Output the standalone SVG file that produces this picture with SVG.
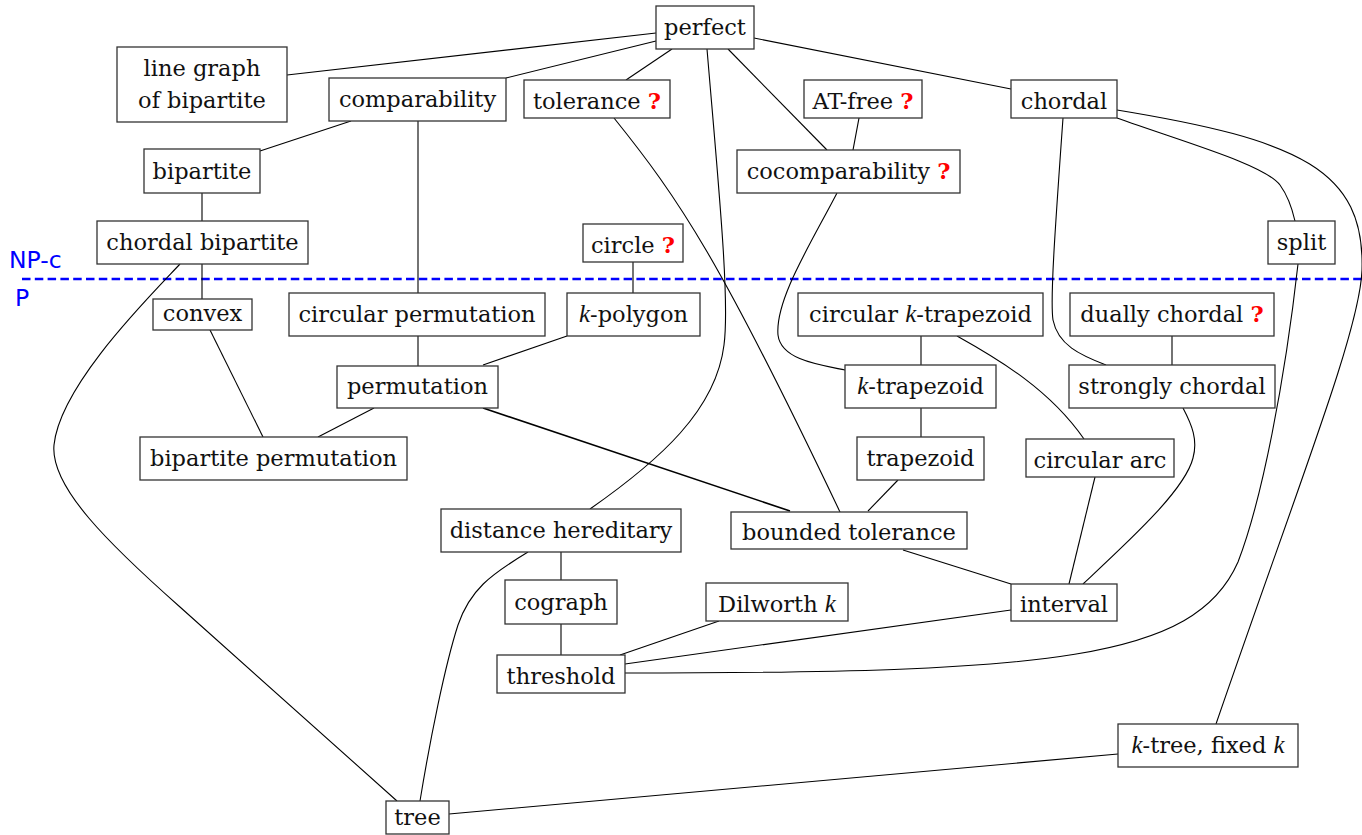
<svg xmlns="http://www.w3.org/2000/svg" width="1362" height="835" viewBox="0 0 1362 835">
<style>
.n{fill:#fff;stroke:#333;stroke-width:1.3}
.t{font-family:"DejaVu Serif","Liberation Serif",serif;font-size:22.5px;text-anchor:middle;fill:#111}
.q{fill:#f00;font-weight:bold}
.k{font-family:"Liberation Serif",serif;font-style:italic;font-size:25px}
.lbl{font-family:"DejaVu Sans","Liberation Sans",sans-serif;font-size:23.5px;fill:#00f}
#connectors path{fill:none;stroke:#000;stroke-width:1.1}
</style>
<rect width="1362" height="835" fill="#fff"/>
<g id="boundary">
<line x1="22" y1="279" x2="1362" y2="279" stroke="#00f" stroke-width="2.3" stroke-dasharray="8.5 4.3"/>
<text class="lbl" x="9" y="268">NP-c</text>
<text class="lbl" x="15" y="306">P</text>
</g>
<g id="connectors">
<path d="M656,33 L287,75"/>
<path d="M656,41 L506,78"/>
<path d="M672,49 L626,80"/>
<path d="M707,49 C718,180 730,300 724,345 C716,410 660,460 590,509"/>
<path d="M728,49 L827,150"/>
<path d="M754,38 L1011,89"/>
<path d="M859,118 L853,150"/>
<path d="M351,121 L260,151"/>
<path d="M418,121 L418,293"/>
<path d="M202,193 L202,221"/>
<path d="M202,264 L202,299"/>
<path d="M180,264 C150,296 60,385 54,445 C50,487 110,545 180,607 L397,801"/>
<path d="M210,330 L263,437"/>
<path d="M374,408 L318,437"/>
<path d="M418,336 L418,366"/>
<path d="M567,336 L483,365"/>
<path d="M633,262 L633,293"/>
<path d="M483,408 L790,511" style="stroke-width:1.6"/>
<path d="M614,118 C680,200 720,260 840,512"/>
<path d="M837,193 C810,245 775,300 778,335 C781,360 820,365 845,370"/>
<path d="M921,336 L921,365"/>
<path d="M921,408 L921,437"/>
<path d="M957,336 C1000,360 1050,390 1084,439"/>
<path d="M898,480 L868,511"/>
<path d="M903,550 L1011,584"/>
<path d="M1095,477 L1069,584"/>
<path d="M1183,408 C1192,425 1198,440 1193,458 C1185,490 1130,540 1083,584"/>
<path d="M1172,336 L1172,365"/>
<path d="M1063,118 C1055,230 1050,300 1053,320 C1058,345 1080,355 1106,365"/>
<path d="M1117,118 C1190,144 1265,165 1280,185 C1288,196 1292,208 1295,221"/>
<path d="M1117,110 C1300,140 1365,170 1362,270 C1360,330 1300,480 1216,724"/>
<path d="M1298,264 C1285,380 1262,500 1238,562 C1195,660 1050,673 625,673"/>
<path d="M1011,610 L625,664"/>
<path d="M719,621 L620,655"/>
<path d="M561,552 L561,580"/>
<path d="M561,624 L561,655"/>
<path d="M528,552 C490,575 470,590 458,625 C445,665 430,740 420,801"/>
<path d="M1118,754 L449,814"/>
</g>
<g id="perfect"><rect class="n" x="656" y="6" width="98" height="43"/><text class="t" x="705" y="35">perfect</text></g>
<g id="line-graph"><rect class="n" x="117" y="47" width="170" height="75"/><text class="t" x="202" y="76">line graph</text><text class="t" x="202" y="108">of bipartite</text></g>
<g id="comparability"><rect class="n" x="329" y="78" width="177" height="43"/><text class="t" x="417.5" y="107">comparability</text></g>
<g id="tolerance"><rect class="n" x="524" y="80" width="146" height="38"/><text class="t" x="597" y="108.5">tolerance <tspan class="q">?</tspan></text></g>
<g id="at-free"><rect class="n" x="804" y="80" width="118" height="38"/><text class="t" x="863" y="108.5">AT-free <tspan class="q">?</tspan></text></g>
<g id="chordal"><rect class="n" x="1011" y="80" width="106" height="38"/><text class="t" x="1064" y="108.5">chordal</text></g>
<g id="cocomparability"><rect class="n" x="737" y="150" width="223" height="43"/><text class="t" x="848.5" y="179">cocomparability <tspan class="q">?</tspan></text></g>
<g id="bipartite"><rect class="n" x="144" y="149" width="116" height="44"/><text class="t" x="202" y="179">bipartite</text></g>
<g id="split"><rect class="n" x="1268" y="221" width="67" height="43"/><text class="t" x="1301.5" y="250">split</text></g>
<g id="chordal-bipartite"><rect class="n" x="97" y="221" width="211" height="43"/><text class="t" x="202.5" y="250">chordal bipartite</text></g>
<g id="circle"><rect class="n" x="583" y="224" width="100" height="38"/><text class="t" x="633" y="252.5">circle <tspan class="q">?</tspan></text></g>
<g id="convex"><rect class="n" x="153" y="299" width="99" height="31"/><text class="t" x="202.5" y="321">convex</text></g>
<g id="circular-permutation"><rect class="n" x="289" y="293" width="256" height="43"/><text class="t" x="417" y="322">circular permutation</text></g>
<g id="k-polygon"><rect class="n" x="567" y="293" width="133" height="43"/><text class="t" x="633.5" y="322"><tspan class="k">k</tspan>-polygon</text></g>
<g id="permutation"><rect class="n" x="337" y="366" width="161" height="42"/><text class="t" x="417.5" y="394">permutation</text></g>
<g id="bipartite-permutation"><rect class="n" x="140" y="437" width="267" height="43"/><text class="t" x="273.5" y="466">bipartite permutation</text></g>
<g id="circular-k-trapezoid"><rect class="n" x="798" y="293" width="245" height="43"/><text class="t" x="920.5" y="322">circular <tspan class="k">k</tspan>-trapezoid</text></g>
<g id="dually-chordal"><rect class="n" x="1070" y="293" width="204" height="43"/><text class="t" x="1172" y="322">dually chordal <tspan class="q">?</tspan></text></g>
<g id="k-trapezoid"><rect class="n" x="845" y="365" width="151" height="43"/><text class="t" x="920.5" y="394"><tspan class="k">k</tspan>-trapezoid</text></g>
<g id="strongly-chordal"><rect class="n" x="1069" y="365" width="206" height="43"/><text class="t" x="1172" y="394">strongly chordal</text></g>
<g id="trapezoid"><rect class="n" x="857" y="437" width="127" height="43"/><text class="t" x="920.5" y="466">trapezoid</text></g>
<g id="circular-arc"><rect class="n" x="1026" y="439" width="148" height="38"/><text class="t" x="1100" y="467.5">circular arc</text></g>
<g id="distance-hereditary"><rect class="n" x="441" y="509" width="240" height="43"/><text class="t" x="561" y="538">distance hereditary</text></g>
<g id="bounded-tolerance"><rect class="n" x="731" y="512" width="236" height="37"/><text class="t" x="849" y="539.5">bounded tolerance</text></g>
<g id="cograph"><rect class="n" x="505" y="580" width="112" height="44"/><text class="t" x="561" y="610">cograph</text></g>
<g id="dilworth-k"><rect class="n" x="706" y="583" width="142" height="38"/><text class="t" x="777" y="611.5">Dilworth <tspan class="k">k</tspan></text></g>
<g id="interval"><rect class="n" x="1011" y="584" width="106" height="37"/><text class="t" x="1064" y="611.5">interval</text></g>
<g id="threshold"><rect class="n" x="497" y="655" width="128" height="38"/><text class="t" x="561" y="683.5">threshold</text></g>
<g id="k-tree"><rect class="n" x="1118" y="724" width="180" height="43"/><text class="t" x="1208" y="753"><tspan class="k">k</tspan>-tree, fixed <tspan class="k">k</tspan></text></g>
<g id="tree"><rect class="n" x="386" y="801" width="63" height="33"/><text class="t" x="417.5" y="824.5">tree</text></g>
</svg>
